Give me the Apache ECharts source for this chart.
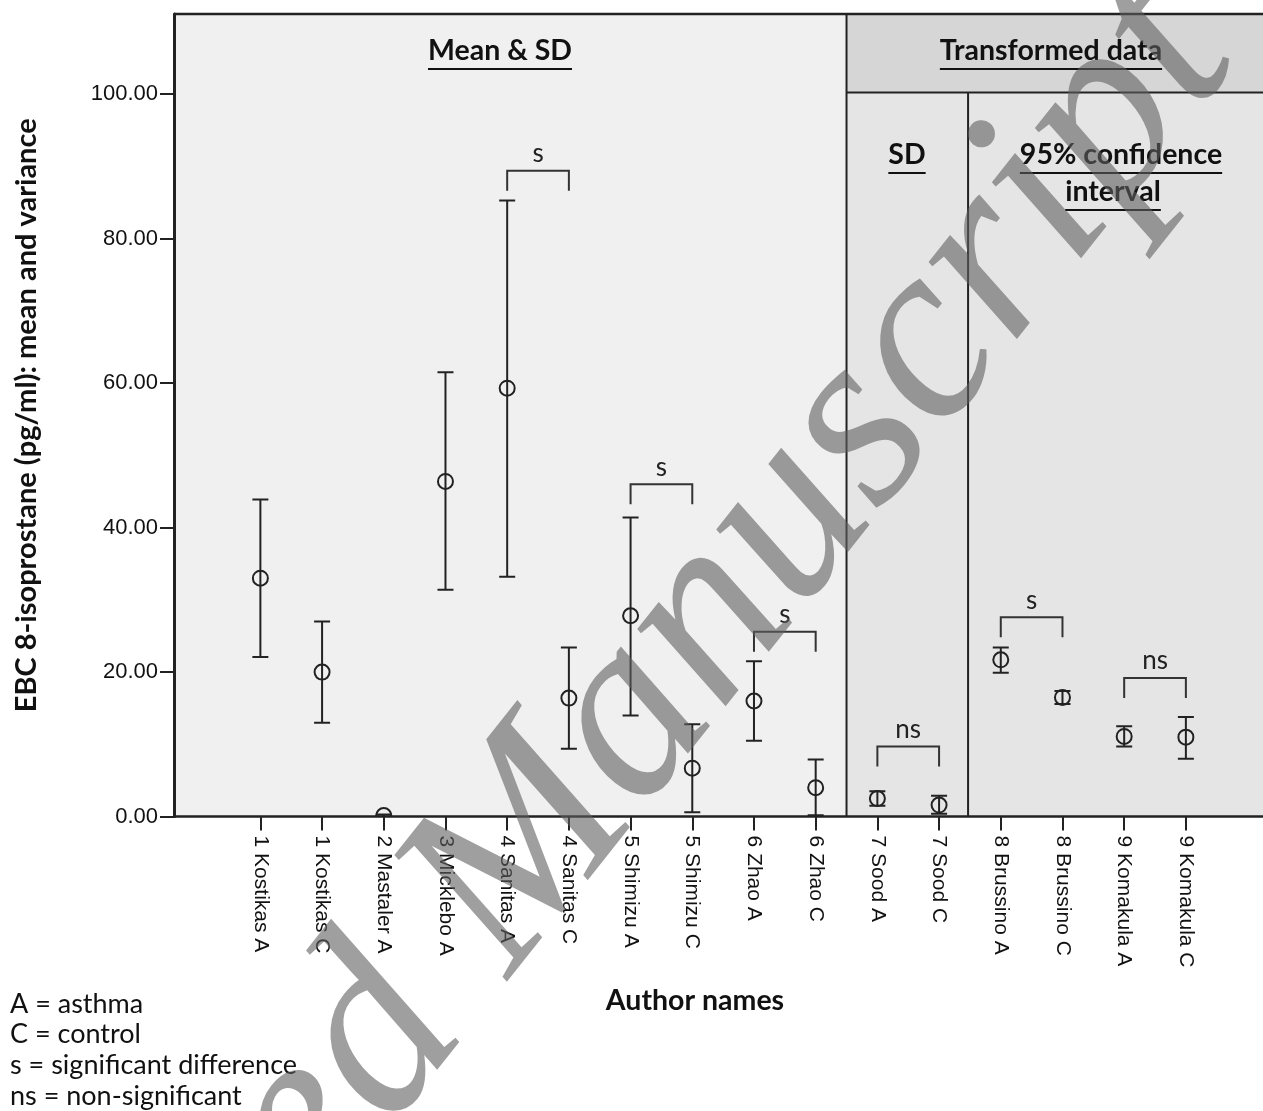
<!DOCTYPE html>
<html><head><meta charset="utf-8">
<script src="https://cdn.jsdelivr.net/npm/echarts@6/dist/echarts.min.js"></script>
<style>html,body{margin:0;padding:0;background:#fff}#c{width:1263px;height:1111px}</style>
</head><body><div id="c"></div>
<script>
// ---- data ----
const categories = ['1 Kostikas A','1 Kostikas C','2 Mastaler A','3 Micklebo A','4 Sanitas A','4 Sanitas C','5 Shimizu A','5 Shimizu C','6 Zhao A','6 Zhao C','7 Sood A','7 Sood C','8 Brussino A','8 Brussino C','9 Komakula A','9 Komakula C'];
const meanValues  = [33.0, 20.0, 0.15, 46.4, 59.3, 16.4, 27.8, 6.7, 16.0, 4.0, 2.5, 1.6, 21.7, 16.5, 11.1, 11.0];
const upperValues = [43.9, 27.0, 0.3, 61.5, 85.3, 23.4, 41.4, 12.8, 21.5, 7.9, 3.5, 2.9, 23.4, 17.4, 12.5, 13.8];
const lowerValues = [22.1, 13.0, 0.0, 31.4, 33.2, 9.4, 14.0, 0.6, 10.5, 0.2, 1.5, 0.4, 19.9, 15.6, 9.7, 8.0];
const yTickValues = [0, 20, 40, 60, 80, 100];
const bracketLeft   = [5, 7, 9, 11, 13, 15];
const bracketRight  = [6, 8, 10, 12, 14, 16];
const bracketTop    = [89.4, 46.0, 25.6, 9.7, 27.6, 19.2];
const bracketLabels = ['s', 's', 's', 'ns', 's', 'ns'];
const legendLines = ['A = asthma', 'C = control', 's = significant difference', 'ns = non-significant'];

// ---- layout config ----
const X_MIN = -0.4, X_MAX = 17.25, Y_MAX = 111.1, HEADER_Y = 100.25;
const DIV1 = 10.5, DIV2 = 12.47;
const INK = '#222';
const TITLE_FONT = 'Lato';
const TITLE_SIZE = 28.5;

const chart = echarts.init(document.getElementById('c'), null, {renderer: 'canvas'});

const positions = categories.map((_, i) => i + 1);
const errData = positions.map((p, i) => [p, lowerValues[i], upperValues[i]]);
const meanData = positions.map((p, i) => [p, meanValues[i]]);
const bracketData = bracketLeft.map((l, i) => [l, bracketRight[i], bracketTop[i], i]);

const measureCtx = document.createElement('canvas').getContext('2d');
function textWidth(str, font) { measureCtx.font = font; return measureCtx.measureText(str).width; }

function titleGraphic(str, cx, baseline, size) {
  const font = 'bold ' + size + 'px ' + TITLE_FONT;
  const w = textWidth(str, font);
  return [
    {type: 'text', x: cx, y: baseline, style: {text: str, font: font, fill: '#111', textAlign: 'center', textVerticalAlign: 'bottom'}, z: 20},
    {type: 'line', shape: {x1: cx - w / 2, y1: baseline + 4, x2: cx + w / 2, y2: baseline + 4}, style: {stroke: '#111', lineWidth: 2}, z: 20}
  ];
}

const graphics = [].concat(
  titleGraphic('Mean & SD', 500, 65, TITLE_SIZE),
  titleGraphic('Transformed data', 1051, 65, TITLE_SIZE),
  titleGraphic('SD', 907, 169, TITLE_SIZE),
  titleGraphic('95% confidence', 1121, 169, TITLE_SIZE),
  titleGraphic('interval', 1113, 206, TITLE_SIZE),
  [{type: 'text', x: 695, y: 1001, style: {text: 'Author names', font: 'bold ' + TITLE_SIZE + 'px ' + TITLE_FONT, fill: '#111', textAlign: 'center', textVerticalAlign: 'middle'}}],
  legendLines.map((t, i) => ({type: 'text', x: 10, y: 1004 + i * 30.7, style: {text: t, font: '27px ' + TITLE_FONT, fill: '#111', textAlign: 'left', textVerticalAlign: 'middle'}})),
  [{type: 'text', x: 1287, y: 96, rotation: 0.9, silent: true, z: 100,
    style: {text: 'Accepted Manuscript', font: 'italic 255px "Liberation Serif"', fill: 'rgba(95,95,95,0.6)', textAlign: 'right', textVerticalAlign: 'bottom'}}]
);

const option = {
  animation: false,
  backgroundColor: '#fff',
  grid: {left: 174, top: 14, right: 0, bottom: 294.4, containLabel: false},
  xAxis: {
    type: 'value', min: X_MIN, max: X_MAX,
    axisLine: {show: true, onZero: false, lineStyle: {color: INK, width: 2.5}},
    axisTick: {show: true, length: 14, lineStyle: {color: INK, width: 2}, customValues: positions},
    axisLabel: {show: true, customValues: positions, rotate: -90, margin: 19, fontFamily: 'Liberation Sans', fontSize: 21, color: '#111',
      formatter: v => categories[Math.round(v) - 1] || ''},
    splitLine: {show: false}
  },
  yAxis: {
    type: 'value', min: 0, max: Y_MAX,
    name: 'EBC 8-isoprostane (pg/ml): mean and variance', nameLocation: 'middle', nameRotate: 90, nameGap: 133,
    nameTextStyle: {fontFamily: TITLE_FONT, fontWeight: 'bold', fontSize: 29, color: '#111'},
    axisLine: {show: true, onZero: false, lineStyle: {color: INK, width: 3}},
    axisTick: {show: true, length: 14, lineStyle: {color: INK, width: 2}, customValues: yTickValues},
    axisLabel: {customValues: yTickValues, margin: 16, fontFamily: 'Liberation Sans', fontSize: 22, color: '#111', formatter: v => v.toFixed(2)},
    splitLine: {show: false}
  },
  graphic: graphics,
  series: [
    {
      type: 'custom', name: 'panels', silent: true, z: 0, clip: false,
      data: [[0]],
      renderItem: (params, api) => {
        const tl = api.coord([X_MIN, Y_MAX]), br = api.coord([X_MAX, 0]);
        const d1 = api.coord([DIV1, 0])[0], d2 = api.coord([DIV2, 0])[0];
        const hy = api.coord([0, HEADER_Y])[1];
        const rect = (x0, y0, x1, y1, fill) => ({type: 'rect', shape: {x: x0, y: y0, width: x1 - x0, height: y1 - y0}, style: {fill: fill}});
        const line = (x1, y1, x2, y2, w) => ({type: 'line', shape: {x1, y1, x2, y2}, style: {stroke: INK, lineWidth: w || 2}});
        return {type: 'group', children: [
          rect(tl[0], tl[1], d1, br[1], '#f0f0f0'),
          rect(d1, hy, br[0] + 5, br[1], '#e5e5e5'),
          rect(d1, tl[1], br[0] + 5, hy, '#d6d6d6'),
          line(tl[0], tl[1], br[0] + 5, tl[1], 2.5),
          line(d1, tl[1], d1, br[1], 2),
          line(d2, hy, d2, br[1], 2),
          line(d1, hy, br[0] + 5, hy, 2)
        ]};
      }
    },
    {
      type: 'custom', name: 'error bars', z: 5, clip: true,
      data: errData,
      renderItem: (params, api) => {
        const x = api.value(0);
        const pLo = api.coord([x, api.value(1)]), pHi = api.coord([x, api.value(2)]);
        const hw = 8, st = {stroke: INK, lineWidth: 2};
        return {type: 'group', children: [
          {type: 'line', shape: {x1: pLo[0], y1: pLo[1], x2: pHi[0], y2: pHi[1]}, style: st},
          {type: 'line', shape: {x1: pHi[0] - hw, y1: pHi[1], x2: pHi[0] + hw, y2: pHi[1]}, style: st},
          {type: 'line', shape: {x1: pLo[0] - hw, y1: pLo[1], x2: pLo[0] + hw, y2: pLo[1]}, style: st}
        ]};
      }
    },
    {
      type: 'custom', name: 'mean', z: 6, clip: true,
      data: meanData,
      renderItem: (params, api) => {
        const p = api.coord([api.value(0), api.value(1)]);
        return {type: 'circle', shape: {cx: p[0], cy: p[1], r: 7.5}, style: {fill: null, stroke: INK, lineWidth: 2}};
      }
    },
    {
      type: 'custom', name: 'significance', z: 6, clip: false,
      data: bracketData,
      renderItem: (params, api) => {
        const l = api.value(0), r = api.value(1), top = api.value(2), idx = api.value(3);
        const a = api.coord([l, top]), b = api.coord([r, top]);
        const leg = 20;
        return {type: 'group', children: [
          {type: 'polyline', shape: {points: [[a[0], a[1] + leg], [a[0], a[1]], [b[0], b[1]], [b[0], b[1] + leg]]}, style: {stroke: '#333', lineWidth: 2, fill: null}},
          {type: 'text', x: (a[0] + b[0]) / 2, y: a[1] - 4, style: {text: bracketLabels[idx], font: '26px ' + TITLE_FONT, fill: '#222', textAlign: 'center', textVerticalAlign: 'bottom'}}
        ]};
      }
    }
  ]
};
chart.setOption(option);
</script></body></html>
